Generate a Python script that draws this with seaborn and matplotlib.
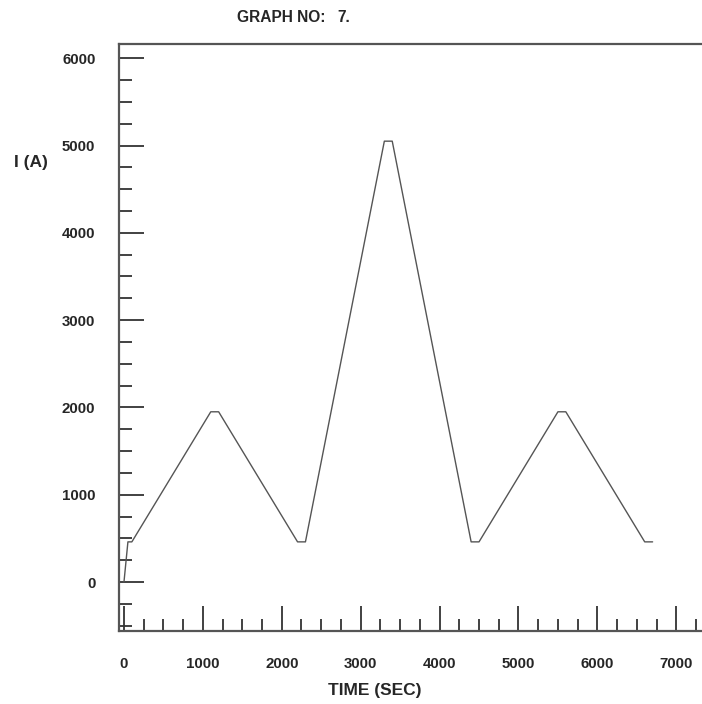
import matplotlib
matplotlib.use("Agg")
import matplotlib.pyplot as plt
from matplotlib.ticker import MultipleLocator
import seaborn as sns
import pandas as pd

# Current profile: time (s) and current (A)
time_s = [0, 50, 100, 1100, 1200, 2200, 2300, 3300, 3400, 4400, 4500, 5500, 5600, 6600, 6700]
current_a = [0, 460, 460, 1950, 1950, 460, 460, 5050, 5050, 460, 460, 1950, 1950, 460, 460]

x_ticks = [0, 1000, 2000, 3000, 4000, 5000, 6000, 7000]
y_ticks = [0, 1000, 2000, 3000, 4000, 5000, 6000]

df = pd.DataFrame({"TIME (SEC)": time_s, "I (A)": current_a})

sns.set_style("white")
plt.rcParams["font.family"] = ["Liberation Sans", "DejaVu Sans"]
plt.rcParams["font.weight"] = "bold"

W, H = 702, 704
fig = plt.figure(figsize=(W / 100, H / 100), dpi=100)
left, right, top, bottom = 119, 702, 44, 631
ax = fig.add_axes([left / W, 1 - bottom / H, (right - left) / W, (bottom - top) / H])

sns.lineplot(data=df, x="TIME (SEC)", y="I (A)", ax=ax, color="#555555",
             linewidth=1.0, sort=False, estimator=None)

ax.set_xlim(-63, 7326)
ax.set_ylim(-561, 6163)

ax.xaxis.set_minor_locator(MultipleLocator(250))
ax.yaxis.set_minor_locator(MultipleLocator(250))
ax.set_xticks(x_ticks)
ax.set_yticks(y_ticks)
ax.set_xticklabels([str(v) for v in x_ticks], fontsize=10.8, fontweight="bold")
ax.set_yticklabels([str(v) for v in y_ticks], fontsize=10.8, fontweight="bold")

ax.tick_params(axis="both", which="both", bottom=True, left=True, top=False, right=False)
ax.tick_params(axis="both", which="major", direction="in", length=18, width=1.3,
               color="#333333")
ax.tick_params(axis="both", which="minor", direction="in", length=9, width=1.3,
               color="#333333")
ax.tick_params(axis="x", which="major", pad=19)
ax.tick_params(axis="y", which="major", pad=17)

for side in ["left", "top", "bottom"]:
    ax.spines[side].set_visible(True)
    ax.spines[side].set_color("#555555")
    ax.spines[side].set_linewidth(1.6)
ax.spines["right"].set_visible(False)

ax.set_xlabel("")
ax.set_ylabel("")
fig.text(375 / W, 1 - 691 / H, "TIME (SEC)", ha="center", va="center",
         fontsize=12.5, fontweight="bold")
fig.text(14 / W, 1 - 163 / H, "I (A)", ha="left", va="center",
         fontsize=12.5, fontweight="bold")
fig.text(281 / W, 1 - 17 / H, "GRAPH NO:", ha="center", va="center",
         fontsize=11.2, fontweight="bold")
fig.text(344 / W, 1 - 17 / H, "7.", ha="center", va="center",
         fontsize=11.2, fontweight="bold")

fig.savefig("out.png", dpi=100, facecolor="white")
